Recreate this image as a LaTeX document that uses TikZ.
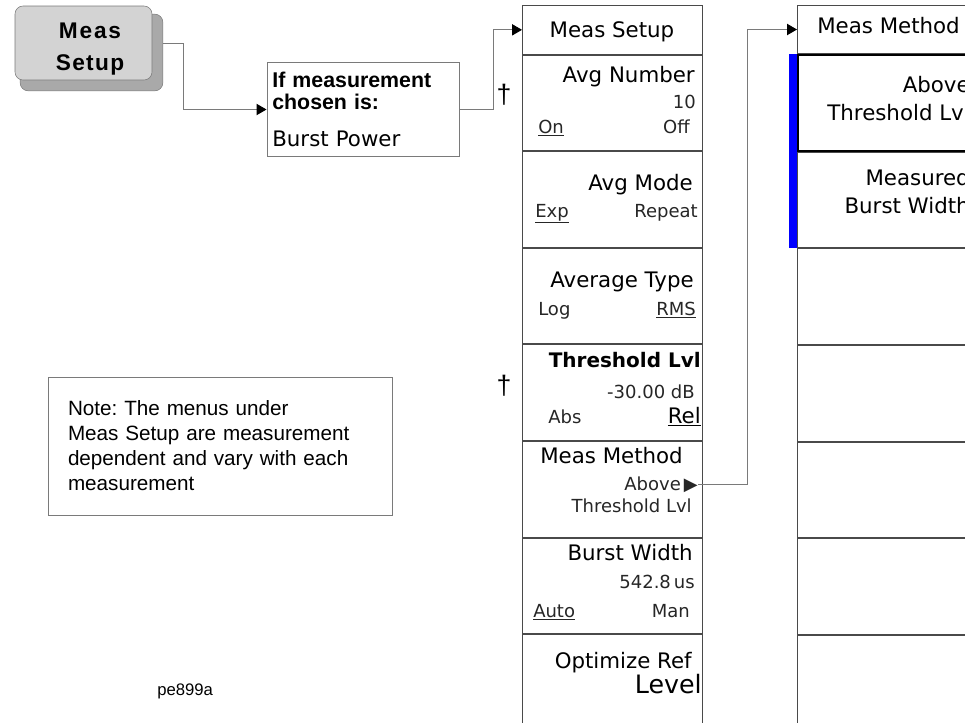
\documentclass[tikz,border=0pt]{standalone}
\usepackage{fontspec}
\setmainfont{Liberation Sans}
\newfontfamily\keyfont{DejaVu Sans}
\definecolor{hpFace}{HTML}{D3D3D3}
\definecolor{hpShade}{HTML}{A9A9A9}
\definecolor{hpEdge}{HTML}{7A7A7A}
\definecolor{hpLine}{HTML}{4A4A4A}
\definecolor{hpBlue}{HTML}{0000FF}
\usetikzlibrary{arrows.meta, positioning}
\newcommand{\keyul}[1]{\underline{#1}}
\frenchspacing

\begin{document}
\begin{tikzpicture}[x=0.75pt, y=-0.75pt,
  link/.style={draw=hpEdge, line width=0.75pt,
    -{Triangle[length=7.5pt, width=8.5pt, color=black]}},
  softkey/.style={draw=hpLine, line width=0.75pt, minimum width=135pt,
    minimum height=71.7pt, inner sep=0pt},
  keyhead/.style={softkey, minimum height=36.5pt},
  big/.style={font=\keyfont\fontsize{16}{18}\selectfont, inner sep=0pt},
  small/.style={font=\keyfont\fontsize{13.5}{15}\selectfont, inner sep=0pt,
    text=black!85},
  dag/.style={font=\fontsize{20}{22}\selectfont, inner sep=0pt, anchor=base}]

  \useasboundingbox (0,0) rectangle (965,722);
  \clip (0,0) rectangle (965,722);

  % hard key
  \node[draw=hpEdge, fill=hpShade, rounded corners=6pt, minimum width=107pt,
    minimum height=57.5pt] (keyshade) at (91.5,52.5) {};
  \node[draw=hpEdge, fill=hpFace, rounded corners=6pt, minimum width=102.75pt,
    minimum height=55.5pt] (measkey) at (83.5,43) {};
  \node[font=\bfseries\fontsize{17}{24.5}\selectfont, align=center,
    inner sep=0pt] (keylabel) at (90,49)
    {\addfontfeature{LetterSpace=8}Meas\\\addfontfeature{LetterSpace=6}Setup};

  \node[draw=hpEdge, line width=0.75pt, minimum width=144pt, minimum height=71pt,
    text width=136pt, inner xsep=4pt, align=left,
    font=\fontsize{16}{16}\selectfont] (ifbox) at (363,109.5)
    {\textbf{If measurement}\\\textbf{chosen is:}\\[12pt]{\keyfont Burst Power}};

  \node[draw=hpEdge, line width=0.75pt, minimum width=258pt, minimum height=103.5pt,
    text width=228pt, align=left, inner xsep=15pt,
    font=\fontsize{15.5}{18.75}\selectfont] (notebox) at (220,446)
    {Note: The menus under\\Meas Setup are measurement\\dependent and vary with each\\measurement};

  \node[font=\fontsize{12.5}{14}\selectfont, anchor=base west, inner sep=0pt]
    (figid) at (157,695) {pe899a};

  % Meas Setup menu
  \node[keyhead, anchor=north west] (setuphead) at (522,5) {};
  \node[softkey, below=0pt of setuphead] (avgnum) {};
  \node[softkey, below=0pt of avgnum] (avgmode) {};
  \node[softkey, below=0pt of avgmode] (avgtype) {};
  \node[softkey, below=0pt of avgtype] (thresh) {};
  \node[softkey, below=0pt of thresh] (method) {};
  \node[softkey, below=0pt of method] (burstw) {};
  \node[softkey, below=0pt of burstw] (optref) {};

  \node[big, anchor=base] at (612,37) {Meas Setup};
  \node[big, anchor=base east] at (695,82) {Avg Number};
  \node[small, anchor=base east] at (696,108) {10};
  \node[small, anchor=base west] at (538,133) {\keyul{On}};
  \node[small, anchor=base east] at (690,133) {Off};
  \node[big, anchor=base east] at (693,190) {Avg Mode};
  \node[small, anchor=base west] at (535,217) {\keyul{Exp}};
  \node[small, anchor=base east] at (698,217) {Repeat};
  \node[big, anchor=base east] at (694,287) {Average Type};
  \node[small, anchor=base west] at (538,315) {Log};
  \node[small, anchor=base east] at (696,315) {\keyul{RMS}};
  \node[big, anchor=base east, font=\keyfont\bfseries\fontsize{15}{17}\selectfont]
    at (701,367) {Threshold Lvl};
  \node[small, anchor=base east] at (695,398) {-30.00 dB};
  \node[small, anchor=base west] at (548,423) {Abs};
  \node[big, anchor=base east] at (701,423) {\keyul{Rel}};
  \node[big, anchor=base west] at (540,463) {Meas Method};
  \node[small, anchor=base east] (abovetxt) at (698,490) {Above\,▶};
  \node[small, anchor=base east] at (692,512) {Threshold Lvl};
  \node[big, anchor=base east] at (693,560) {Burst Width};
  \node[small, anchor=base east] at (695,588) {542.8\,us};
  \node[small, anchor=base west] at (533,617) {\keyul{Auto}};
  \node[small, anchor=base east] at (690,617) {Man};
  \node[big, anchor=base east] at (692,668) {Optimize Ref};
  \node[big, anchor=base east, font=\keyfont\fontsize{19}{21}\selectfont]
    at (702,693) {Level};

  % Meas Method menu
  \node[keyhead, anchor=north west, minimum height=36pt] (methodhead) at (797,5) {};
  \node[softkey, below=0pt of methodhead, draw=black, line width=1.6pt] (abovekey) {};
  \node[softkey, below=0pt of abovekey] (widthkey) {};
  \node[softkey, below=0pt of widthkey] (mkey3) {};
  \node[softkey, below=0pt of mkey3] (mkey4) {};
  \node[softkey, below=0pt of mkey4] (mkey5) {};
  \node[softkey, below=0pt of mkey5] (mkey6) {};
  \node[softkey, below=0pt of mkey6] (mkey7) {};
  \fill[hpBlue] ([xshift=-5.25pt]abovekey.north west) rectangle (widthkey.south west);

  \node[big, anchor=base west] at (817,33) {Meas Method};
  \node[big, anchor=base east] at (970,92) {Above};
  \node[big, anchor=base east] at (970,120) {Threshold Lvl};
  \node[big, anchor=base east] at (970,185) {Measured};
  \node[big, anchor=base east] at (970,213) {Burst Width};

  \node[dag] (dag1) at (504,103) {†};
  \node[dag] (dag2) at (504,394) {†};

  \draw[link] (measkey.east -| keyshade.east) -- ++(20,0) |- (ifbox.west);
  \draw[link] (ifbox.east) -- ++(34,0) |- (setuphead.west);
  \draw[link] (abovetxt.east) -- ++(49,0) |- (methodhead.west);
\end{tikzpicture}
\end{document}
